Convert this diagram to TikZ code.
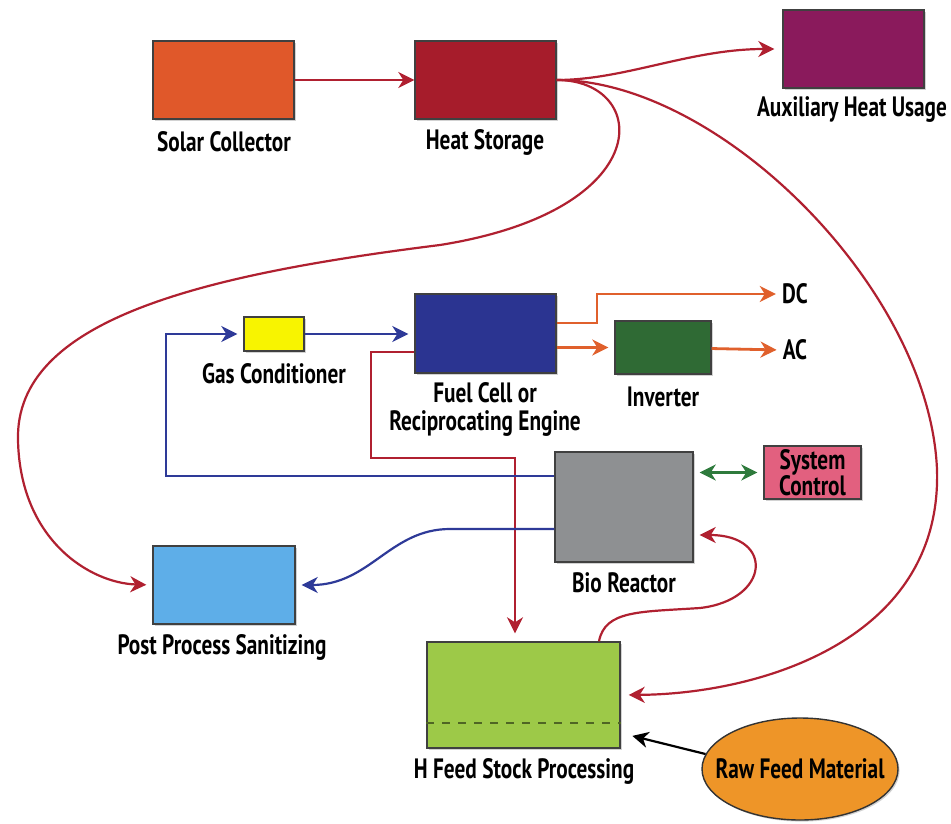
\documentclass[tikz,border=0pt]{standalone}
\usepackage{fontspec}
\newfontfamily\lblfont[FakeStretch=0.76]{PT Sans}
\usetikzlibrary{arrows.meta,shapes.geometric,shadows}
\definecolor{solarc}{HTML}{E0582A}
\definecolor{heatc}{HTML}{A61C2B}
\definecolor{auxc}{HTML}{8A1A5C}
\definecolor{gasc}{HTML}{F8F400}
\definecolor{fuelc}{HTML}{2B3491}
\definecolor{invc}{HTML}{2F6A34}
\definecolor{bioc}{HTML}{8E9092}
\definecolor{sysc}{HTML}{E2607F}
\definecolor{postc}{HTML}{5EAEE8}
\definecolor{feedc}{HTML}{9DC948}
\definecolor{rawc}{HTML}{EE9528}
\definecolor{redl}{HTML}{B02030}
\definecolor{bluel}{HTML}{2E3A98}
\definecolor{orangel}{HTML}{E0602C}
\definecolor{greenl}{HTML}{2E7A3C}
\begin{document}
\begin{tikzpicture}[x=0.5pt,y=-0.5pt,
    box/.style={draw=black!75,line width=0.7pt,inner sep=0pt,minimum width=70.5pt,minimum height=39pt,
      drop shadow={shadow xshift=0.8pt,shadow yshift=-0.8pt,opacity=0.35}},
    lbl/.style={font=\lblfont\bfseries\fontsize{14}{14}\selectfont,align=center,inner sep=1pt},
    tip/.style={-{Stealth[length=8pt,width=8pt,inset=2.5pt]}},
    heatline/.style={tip,draw=redl,line width=1.1pt},
    gasline/.style={tip,draw=bluel,line width=1.1pt},
    powerline/.style={tip,draw=orangel,line width=1.4pt}]
    \useasboundingbox[fill=white] (0,0) rectangle (951,823);
    % boxes
    \node[box,fill=solarc] (solar) at (223.5,80) {};
    \node[box,fill=heatc] (heat) at (485.5,80) {};
    \node[box,fill=auxc] (aux) at (853.5,49) {};
    \node[box,fill=gasc,minimum width=30pt,minimum height=17pt] (gascond) at (274,334) {};
    \node[box,fill=fuelc,minimum height=39.5pt] (fuel) at (485.5,333.5) {};
    \node[box,fill=invc,minimum width=48pt,minimum height=26.5pt] (inverter) at (663,347.5) {};
    \node[box,fill=bioc,minimum width=69pt,minimum height=55pt] (bio) at (624,507) {};
    \node[box,fill=sysc,minimum width=48.5pt,minimum height=26.5pt,lbl] (sysctl) at (812.5,472.5) {System\\[-1pt]Control};
    \node[box,fill=postc,minimum width=71pt] (post) at (224,585) {};
    \node[box,fill=feedc,minimum width=96.5pt,minimum height=53pt] (feed) at (523.5,695) {};
    \node[ellipse,draw=black!80,line width=0.7pt,fill=rawc,minimum width=98pt,minimum height=51pt,lbl,
      inner xsep=-8pt,inner ysep=0pt,
      drop shadow={shadow xshift=0.8pt,shadow yshift=-0.8pt,opacity=0.35}] (raw) at (800,769) {Raw Feed Material};
    \draw[dashed,draw=black!50!feedc,line width=1pt,dash pattern=on 4pt off 4pt]
      ([yshift=-14pt]feed.west) -- ([yshift=-14pt]feed.east);
    % labels
    \foreach \n/\x/\y/\t in {solar/224/142/Solar Collector,heat/485/142/Heat Storage,
        aux/852/110/Auxiliary Heat Usage,gascond/274/374/Gas Conditioner,
        fuel/485/409/{Fuel Cell or\\Reciprocating Engine},inverter/663/397/Inverter,
        bio/624/583/Bio Reactor,post/222/647/Post Process Sanitizing,
        feed/524/771/H Feed Stock Processing,dc/795/294/DC,ac/795/350/AC} {
        \node[lbl] (\n-t) at (\x,\y) {\t};
    }
    % heat
    \draw[heatline] (solar) -- (heat);
    \draw[heatline,shorten >=4pt] (heat.east) .. controls (625,80) and (690,49) .. (aux.west);
    \draw[heatline,shorten >=3pt] (heat.east) .. controls (650,80) and (660,210) .. (440,245)
      .. controls (200,275) and (15,320) .. (18,440) .. controls (20,540) and (90,583) .. (post.west);
    \draw[heatline,shorten >=4pt] (heat.east) .. controls (720,80) and (930,290) .. (937,470)
      .. controls (942,640) and (760,694) .. (feed.east);
    \coordinate (redturn) at (371,458);
    \draw[heatline,shorten >=4pt] ([yshift=-9.25pt]fuel.west) -| (redturn) -| ([xshift=-4.25pt]feed.north);
    \draw[heatline,shorten >=3pt] ([xshift=37.75pt]feed.north) .. controls (605,610) and (640,612) .. (700,608)
      .. controls (770,600) and (775,535) .. ([yshift=-14pt]bio.east);
    % gas
    \draw[gasline,shorten >=3pt] ([yshift=15.5pt]bio.west) -| ([xshift=-38.5pt]gascond.west) -- (gascond.west);
    \draw[gasline,shorten >=3pt] (gascond) -- (fuel.west |- gascond);
    \draw[gasline,shorten >=3pt] ([yshift=-11pt]bio.west) -- (450,529) .. controls (390,529) and (370,585) .. (post.east);
    % power
    \coordinate (dcbend) at (597,294);
    \draw[powerline,shorten >=2pt] ([yshift=5.25pt]fuel.east) -| (dcbend) -- (dc-t.west);
    \draw[powerline,shorten >=3pt] (fuel.east |- inverter) -- (inverter.west);
    \draw[powerline,shorten >=2pt] (inverter) -- (ac-t.west);
    % control and feed
    \draw[{Stealth[length=8pt,width=8pt,inset=2.5pt]}-{Stealth[length=8pt,width=8pt,inset=2.5pt]},draw=greenl,line width=1.4pt,
      shorten <=3pt,shorten >=3pt] (bio.east |- sysctl) -- (sysctl.west);
    \draw[tip,draw=black,line width=1.1pt,shorten >=6pt] (raw.171) -- ([yshift=-19pt]feed.east);
\end{tikzpicture}
\end{document}
